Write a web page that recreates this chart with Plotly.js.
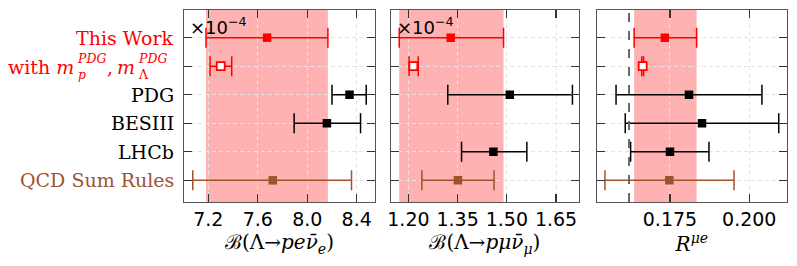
<!DOCTYPE html>
<html>
<head>
<meta charset="utf-8">
<script src="https://cdn.plot.ly/plotly-3.0.1.min.js"></script>
<style>html,body{margin:0;padding:0;background:#fff;}#chart{width:797px;height:266px;}</style>
</head>
<body>
<div id="chart"></div>
<script>
// ---- data ----
const rows = ["This Work", "with m_p^PDG, m_Λ^PDG", "PDG", "BESIII", "LHCb", "QCD Sum Rules"];
const rowIdx = [0, 1, 2, 3, 4, 5];

// B(Λ→p e ν̄e) ×10^-4
const eCenter = [7.675, 7.300, 8.342, 8.159, null, 7.721];
const eLow    = [7.181, 7.214, 8.200, 7.894, null, 7.074];
const eHigh   = [8.167, 7.389, 8.477, 8.431, null, 8.358];

// B(Λ→p μ ν̄μ) ×10^-4
const muCenter = [1.329, 1.215, 1.509, null, 1.459, 1.351];
const muLow    = [1.172, 1.202, 1.320, null, 1.362, 1.241];
const muHigh   = [1.490, 1.230, 1.700, null, 1.561, 1.461];

// R^{μe}
const rCenter = [0.1734, 0.1664, 0.1810, 0.1851, 0.1750, 0.1748];
const rLow    = [0.1637, 0.1661, 0.1580, 0.1609, 0.1626, 0.1545];
const rHigh   = [0.1834, 0.1667, 0.2040, 0.2093, 0.1873, 0.1952];
const rRefLine = 0.1621;

const eTicks = [7.2, 7.6, 8.0, 8.4];
const eTickText = ["7.2", "7.6", "8.0", "8.4"];
const muTicks = [1.20, 1.35, 1.50, 1.65];
const muTickText = ["1.20", "1.35", "1.50", "1.65"];
const rTicks = [0.175, 0.200];
const rTickText = ["0.175", "0.200"];

// ---- styling ----
const W = 797, H = 266;
const RED = "#ff0000", BROWN = "#a0522d", BLACK = "#000000";
const rowColor = [RED, RED, BLACK, BLACK, BLACK, BROWN];
const rowFill  = [RED, "#ffffff", BLACK, BLACK, BLACK, BROWN];
const rowSize  = [8.5, 8, 8.5, 8.5, 8.5, 8.5];
const px = x => x / W;
const py = y => 1 - y / H;

const panels = [
  {c: eCenter, lo: eLow, hi: eHigh, xa: "x", ya: "y"},
  {c: muCenter, lo: muLow, hi: muHigh, xa: "x2", ya: "y2"},
  {c: rCenter, lo: rLow, hi: rHigh, xa: "x3", ya: "y3"}
];

const traces = [];
panels.forEach(p => {
  rowIdx.forEach(i => {
    if (p.c[i] === null) return;
    traces.push({
      type: "scatter", mode: "markers",
      x: [p.c[i]], y: [i], xaxis: p.xa, yaxis: p.ya,
      showlegend: false, hoverinfo: "skip",
      marker: {symbol: "square", size: rowSize[i], color: rowFill[i],
               line: {color: rowColor[i], width: i === 1 ? 1.8 : 0}},
      error_x: {type: "data", symmetric: false,
                array: [p.hi[i] - p.c[i]], arrayminus: [p.c[i] - p.lo[i]],
                color: rowColor[i], thickness: 1.5, width: 10}
    });
  });
});

const fontTick = {family: "DejaVu Sans", size: 19, color: "#000"};
const GRID = "#e3e3e3";
function xax(dom, rng, tv, tt, anchor, title) {
  return {domain: dom, range: rng, anchor: anchor, tickvals: tv, ticktext: tt,
    ticks: "inside", ticklen: 8, tickwidth: 1.2, tickcolor: "#333",
    showline: true, linecolor: "#555", linewidth: 1.2, mirror: "ticks",
    showgrid: true, gridcolor: GRID, griddash: "4px,3px", gridwidth: 1,
    zeroline: false, tickfont: fontTick, automargin: false,
    title: {text: title, font: {family: "DejaVu Serif", size: 20, color: "#000"}, standoff: 6}};
}
function yax(dom, anchor) {
  return {domain: dom, range: [5.76, -0.97], anchor: anchor, tickvals: rowIdx,
    showticklabels: false, ticks: "inside", ticklen: 8, tickwidth: 1.2, tickcolor: "#333",
    showline: true, linecolor: "#555", linewidth: 1.2, mirror: "ticks",
    showgrid: true, gridcolor: GRID, griddash: "4px,3px", gridwidth: 1,
    zeroline: false, automargin: false};
}
const ydom = [py(202), py(10)];

const shapes = [
  {type: "rect", xref: "x", yref: "paper", x0: eLow[0], x1: eHigh[0], y0: ydom[0], y1: ydom[1],
   fillcolor: "rgba(255,0,0,0.3)", line: {width: 0}, layer: "below"},
  {type: "rect", xref: "x2", yref: "paper", x0: muLow[0], x1: muHigh[0], y0: ydom[0], y1: ydom[1],
   fillcolor: "rgba(255,0,0,0.3)", line: {width: 0}, layer: "below"},
  {type: "rect", xref: "x3", yref: "paper", x0: rLow[0], x1: rHigh[0], y0: ydom[0], y1: ydom[1],
   fillcolor: "rgba(255,0,0,0.3)", line: {width: 0}, layer: "below"},
  {type: "line", xref: "x3", yref: "paper", x0: rRefLine, x1: rRefLine, y0: ydom[0], y1: ydom[1],
   line: {color: "#666", width: 2, dash: "dash"}, layer: "above"}
];

const labFont = (c, s) => ({family: "DejaVu Serif", size: s || 19, color: c});
const annotations = [];
[0, 2, 3, 4, 5].forEach(i => {
  annotations.push({xref: "paper", yref: "y", x: px(175), y: i, xanchor: "right", yanchor: "middle",
    text: rows[i], showarrow: false, font: labFont(rowColor[i]), borderpad: 0});
});
// "with m_p^PDG, m_Λ^PDG" built from pieces; stacked sup/sub share one two-line annotation
const yRow1 = 67;
const pieces = [
  {x: 75, y: yRow1, a: "right", t: "with <i>m</i>", s: 19},
  {x: 76, y: 66, a: "left", t: "<i>PDG</i><br><i>p</i>", s: 12.5},
  {x: 106, y: yRow1, a: "left", t: ",", s: 19},
  {x: 136, y: yRow1, a: "right", t: "<i>m</i>", s: 19},
  {x: 137, y: 66, a: "left", t: "<i>PDG</i><br>Λ", s: 12.5}
];
pieces.forEach(p => {
  annotations.push({xref: "paper", yref: "paper", x: px(p.x), y: py(p.y), xanchor: p.a, yanchor: "middle",
    align: "left", text: p.t, showarrow: false, font: labFont(RED, p.s), borderpad: 0});
});
// ×10^-4 offset texts
[184, 390.7].forEach(x0 => {
  annotations.push({xref: "paper", yref: "paper", x: px(x0 + 4), y: py(12), xanchor: "left", yanchor: "top",
    text: "×10<sup>−4</sup>", showarrow: false, font: {family: "DejaVu Sans", size: 18, color: "#000"}});
});

const layout = {
  width: W, height: H, margin: {l: 0, r: 0, t: 0, b: 0},
  paper_bgcolor: "#fff", plot_bgcolor: "#fff",
  xaxis: xax([px(184), px(375)], [7.003, 8.548], eTicks, eTickText, "y",
    "ℬ(Λ→<i>pe</i><i>ν̄</i><sub><i>e</i></sub>)"),
  xaxis2: xax([px(390.7), px(579)], [1.146, 1.72], muTicks, muTickText, "y2",
    "ℬ(Λ→<i>pμ</i><i>ν̄</i><sub><i>μ</i></sub>)"),
  xaxis3: xax([px(596.7), px(787)], [0.1519, 0.2119], rTicks, rTickText, "y3",
    "<i>R</i><sup><i>μe</i></sup>"),
  yaxis: yax(ydom, "x"),
  yaxis2: yax(ydom, "x2"),
  yaxis3: yax(ydom, "x3"),
  shapes: shapes,
  annotations: annotations
};

Plotly.newPlot("chart", traces, layout, {displayModeBar: false, staticPlot: true});
</script>
</body>
</html>
